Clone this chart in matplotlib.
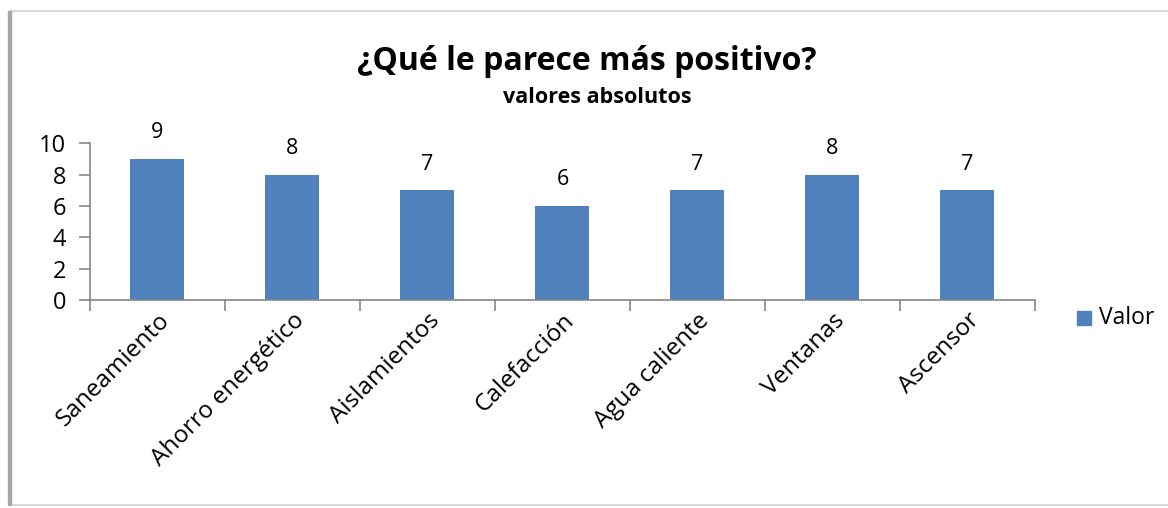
import matplotlib.pyplot as plt
from matplotlib.patches import Rectangle

# Chart data
categories = ['Saneamiento', 'Ahorro energético', 'Aislamientos', 'Calefacción',
              'Agua caliente', 'Ventanas', 'Ascensor']
values = [9, 8, 7, 6, 7, 8, 7]
y_ticks = [0, 2, 4, 6, 8, 10]

BAR_COLOR = '#4F81BD'
AXIS_COLOR = '#868686'

plt.rcParams['font.family'] = ['Open Sans', 'DejaVu Sans']

fig = plt.figure(figsize=(11.68, 5.08), dpi=100)
ax = fig.add_axes([0.077, 0.409, 0.809, 0.309])

x = list(range(len(categories)))
bars = ax.bar(x, values, width=0.4, color=BAR_COLOR)

for xi, v in zip(x, values):
    ax.text(xi, v + 1.0, str(v), ha='center', va='bottom', fontsize=15.5)

ax.set_xlim(-0.5, len(categories) - 0.5)
ax.set_ylim(0, 10)
ax.set_yticks(y_ticks)
ax.set_yticklabels([str(t) for t in y_ticks], fontsize=17)

# category labels without ticks, ticks at boundaries
ax.set_xticks(x)
ax.set_xticklabels(categories, rotation=45, ha='right', rotation_mode='anchor', fontsize=17.5)
ax.tick_params(axis='x', length=0, pad=6)
ax.set_xticks([i - 0.5 for i in range(len(categories) + 1)], minor=True)
ax.tick_params(axis='x', which='minor', length=8, color=AXIS_COLOR, width=1.2)
ax.tick_params(axis='y', length=8, color=AXIS_COLOR, width=1.2, pad=9)

for side in ['top', 'right']:
    ax.spines[side].set_visible(False)
for side in ['left', 'bottom']:
    ax.spines[side].set_color(AXIS_COLOR)
    ax.spines[side].set_linewidth(1.2)

fig.text(0.502, 0.878, '¿Qué le parece más positivo?', ha='center', va='center',
         fontsize=23, fontweight='bold')
fig.text(0.511, 0.808, 'valores absolutos', ha='center', va='center',
         fontsize=15.5, fontweight='bold')

# legend
fig.patches.append(Rectangle((1077 / 1168, 1 - 325 / 508), 14 / 1168, 14 / 508,
                             transform=fig.transFigure, color=BAR_COLOR))
fig.text(1099 / 1168, 1 - 318 / 508, 'Valor', ha='left', va='center', fontsize=16.5)

# outer frame
fig.patches.append(Rectangle((11 / 1168, 3 / 508), 1160 / 1168, 494 / 508,
                             transform=fig.transFigure, fill=False,
                             edgecolor='#D9D9D9', linewidth=1.5))
fig.patches.append(Rectangle((8 / 1168, 3 / 508), 3 / 1168, 494 / 508,
                             transform=fig.transFigure, color='#A6A6A6'))

fig.savefig('out.png', dpi=100)
